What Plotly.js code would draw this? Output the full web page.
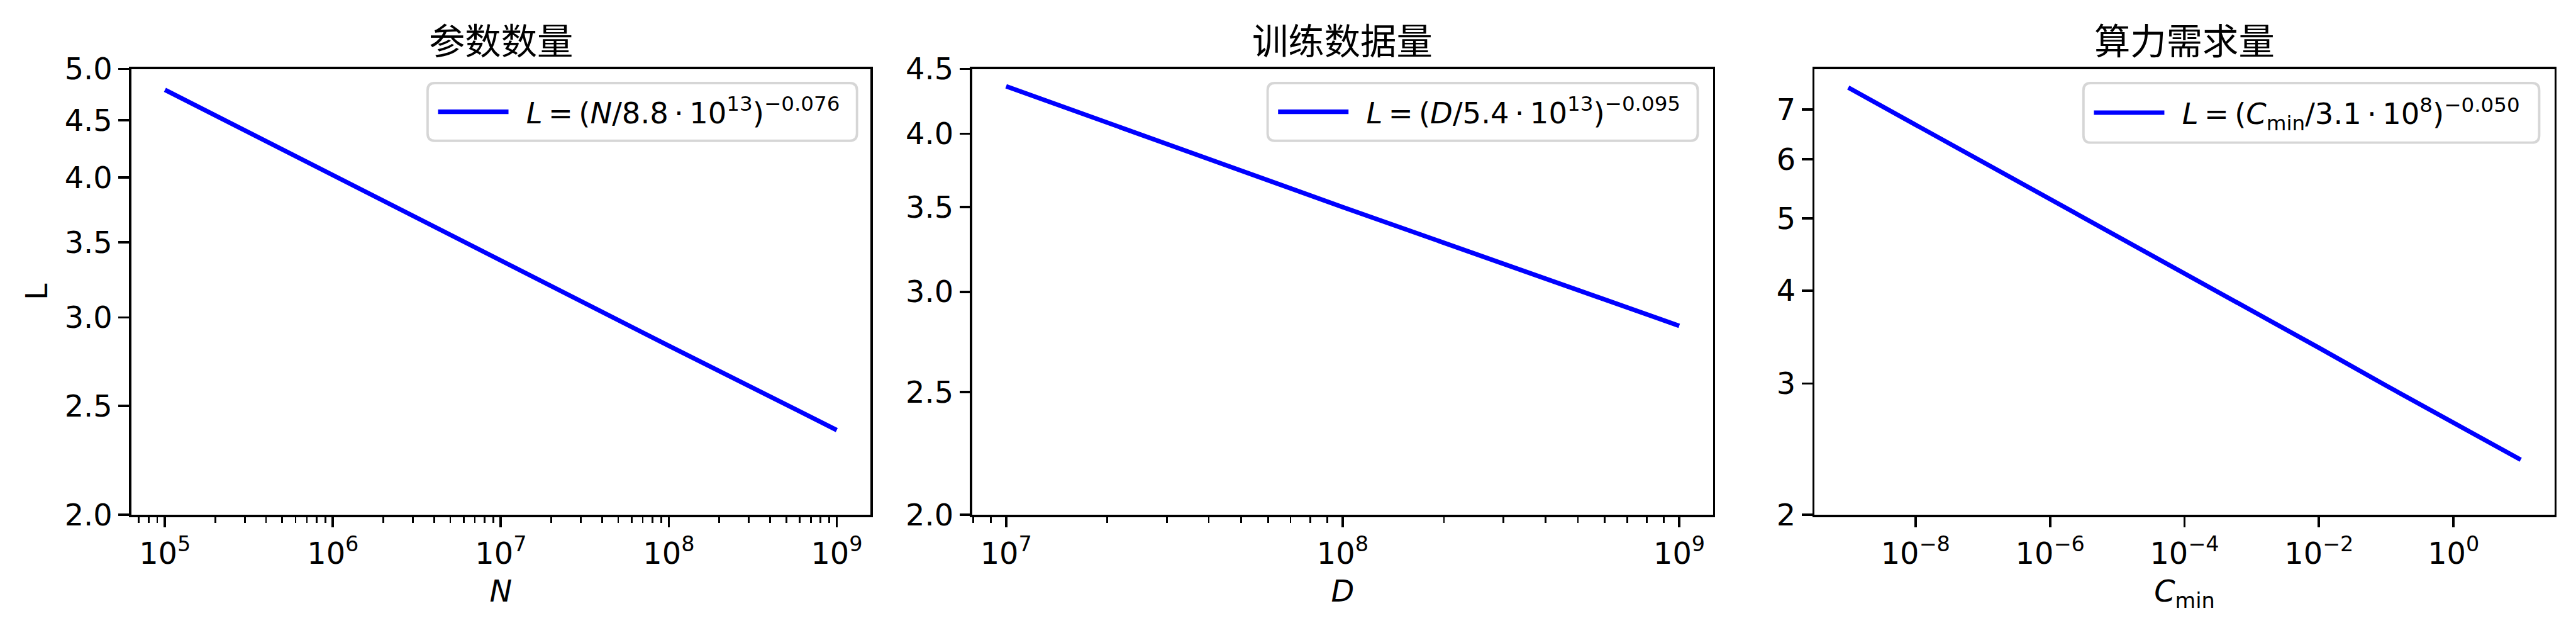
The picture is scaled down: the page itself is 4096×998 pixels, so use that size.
<!DOCTYPE html>
<html><head><meta charset="utf-8">
<script src="https://cdn.plot.ly/plotly-3.0.1.min.js"></script>
<style>html,body{margin:0;padding:0;background:#fff;overflow:hidden}#chart{width:4096px;height:998px}</style>
</head><body><div id="chart"></div>
<script>
// ---- data ----
const panelTitles = ['参数数量', '训练数据量', '算力需求量'];

const paramN = [1e5, 1e6, 1e7, 1e8, 1e9];
const paramL = [4.79, 4.02, 3.37, 2.83, 2.38];

const dataD = [1e7, 1e8, 1e9];
const dataL = [4.36, 3.50, 2.82];

const computeC = [1e-9, 1e-8, 1e-7, 1e-6, 1e-5, 1e-4, 1e-3, 1e-2, 1e-1, 1e0, 1e1];
const computeL = [7.49, 6.68, 5.95, 5.30, 4.73, 4.21, 3.76, 3.35, 2.98, 2.66, 2.37];

const legendNames = [
  '<i>L</i>\u2009=\u2009(<i>N</i>/8.8\u2009·\u200910<sup>13</sup>)<sup>\u22120.076</sup>',
  '<i>L</i>\u2009=\u2009(<i>D</i>/5.4\u2009·\u200910<sup>13</sup>)<sup>\u22120.095</sup>',
  '<i>L</i>\u2009=\u2009(<i>C</i><sub>min</sub>/3.1\u2009·\u200910<sup>8</sup>)<sup>\u22120.050</sup>'
];
const xTitles = ['<i>N</i>', '<i>D</i>', '<i>C</i><sub>min</sub>'];
const yTitle = 'L';

const x1TickVals = [1e5, 1e6, 1e7, 1e8, 1e9];
const x1TickText = ['10<sup>5</sup>', '10<sup>6</sup>', '10<sup>7</sup>', '10<sup>8</sup>', '10<sup>9</sup>'];
const x2TickVals = [1e7, 1e8, 1e9];
const x2TickText = ['10<sup>7</sup>', '10<sup>8</sup>', '10<sup>9</sup>'];
const x3TickVals = [1e-8, 1e-6, 1e-4, 1e-2, 1e0];
const x3TickText = ['10<sup>\u22128</sup>', '10<sup>\u22126</sup>', '10<sup>\u22124</sup>', '10<sup>\u22122</sup>', '10<sup>0</sup>'];

const y1TickVals = [2.0, 2.5, 3.0, 3.5, 4.0, 4.5, 5.0];
const y1TickText = ['2.0', '2.5', '3.0', '3.5', '4.0', '4.5', '5.0'];
const y2TickVals = [2.0, 2.5, 3.0, 3.5, 4.0, 4.5];
const y2TickText = ['2.0', '2.5', '3.0', '3.5', '4.0', '4.5'];
const y3TickVals = [2, 3, 4, 5, 6, 7];
const y3TickText = ['2', '3', '4', '5', '6', '7'];

// ---- geometry (reference px -> output px -> paper) ----
const RW = 7139, RH = 1740, W = 4096, H = 998, S = W / RW;
const PT = 600 / 72 * S;           // one point in output px
const FS = 10 * PT;                // 10pt
const TFS = 12 * PT;               // 12pt
const LFS = 46.5;                  // legend text size

function minorVals(lo, hi) {        // decades lo..hi, digits 2..9
  const out = [];
  for (let e = lo; e <= hi; e++) for (let d = 2; d <= 9; d++) out.push(d * Math.pow(10, e));
  return out;
}

const dom = [[364, 2412], [2695, 4747], [5029, 7079]].map(a => [a[0] / RW, a[1] / RW]);
const ydom = [1 - 1426 / RH, 1 - 191 / RH];

// legend frames (reference px): left, top, right, bottom
const legendBoxes = [[1185, 230, 2375, 390], [3513, 230, 4705, 390], [5774, 230, 7037, 395]];

const lineStyle = {color: '#0000ff', width: 1.5 * PT};
const traces = [
  {x: paramN, y: paramL, xaxis: 'x', yaxis: 'y', legend: 'legend'},
  {x: dataD, y: dataL, xaxis: 'x2', yaxis: 'y2', legend: 'legend2'},
  {x: computeC, y: computeL, xaxis: 'x3', yaxis: 'y3', legend: 'legend3'}
].map((t, i) => Object.assign(t, {type: 'scatter', mode: 'lines', name: '\u2002' + legendNames[i], line: lineStyle, showlegend: true}));

const tickFont = {family: 'DejaVu Sans', size: FS, color: '#000'};
function xax(i, range, tv, tt, minor) {
  const a = {
    type: 'log', domain: dom[i], range: range, anchor: i === 0 ? 'y' : 'y' + (i + 1),
    showline: true, mirror: true, linecolor: '#000', linewidth: 0.8 * PT,
    showgrid: false, zeroline: false,
    ticks: 'outside', ticklen: 3.5 * PT, tickwidth: 0.8 * PT, tickcolor: '#000',
    tickmode: 'array', tickvals: tv, ticktext: tt, tickfont: tickFont,
    title: {text: xTitles[i], font: tickFont, standoff: 18}
  };
  if (minor) a.minor = {tickmode: 'array', tickvals: minor, ticks: 'outside', ticklen: 2 * PT, tickwidth: 0.6 * PT, tickcolor: '#000', showgrid: false};
  return a;
}
function yax(i, range, tv, tt) {
  const a = {
    type: 'log', domain: ydom, range: range, anchor: i === 0 ? 'x' : 'x' + (i + 1),
    showline: true, mirror: true, linecolor: '#000', linewidth: 0.8 * PT,
    showgrid: false, zeroline: false,
    ticks: 'outside', ticklen: 3.5 * PT, tickwidth: 0.8 * PT, tickcolor: '#000',
    tickmode: 'array', tickvals: tv, ticktext: tt, tickfont: tickFont
  };
  if (i === 0) a.title = {text: yTitle, font: tickFont, standoff: 13};
  return a;
}

function px(x) { return x * S / W; }
function py(y) { return 1 - y * S / H; }
function roundRect(b) {
  const r = 20;  // reference px
  const [x0, y0, x1, y1] = b;
  const P = (x, y) => px(x).toFixed(6) + ',' + py(y).toFixed(6);
  return 'M' + P(x0 + r, y0) + ' L' + P(x1 - r, y0) + ' Q' + P(x1, y0) + ' ' + P(x1, y0 + r) +
    ' L' + P(x1, y1 - r) + ' Q' + P(x1, y1) + ' ' + P(x1 - r, y1) +
    ' L' + P(x0 + r, y1) + ' Q' + P(x0, y1) + ' ' + P(x0, y1 - r) +
    ' L' + P(x0, y0 + r) + ' Q' + P(x0, y0) + ' ' + P(x0 + r, y0) + ' Z';
}

function legendFor(b) {
  const lineStartOut = (b[0] + 29) * S;
  return {
    xanchor: 'left', yanchor: 'middle', x: (lineStartOut - 5) / W, y: py((b[1] + b[3]) / 2),
    bgcolor: 'rgba(0,0,0,0)', borderwidth: 0,
    font: {family: 'DejaVu Sans', size: LFS, color: '#000'}, itemwidth: 112
  };
}

const layout = {
  width: W, height: H, margin: {l: 0, r: 0, t: 0, b: 0},
  paper_bgcolor: '#fff', plot_bgcolor: '#fff',
  font: {family: 'DejaVu Sans', color: '#000'},
  xaxis: xax(0, [4.8, 9.2], x1TickVals, x1TickText, minorVals(4, 8)),
  xaxis2: xax(1, [6.9, 9.1], x2TickVals, x2TickText, minorVals(6, 8)),
  xaxis3: xax(2, [-9.5, 1.5], x3TickVals, x3TickText, null),
  yaxis: yax(0, [Math.log10(2), Math.log10(5)], y1TickVals, y1TickText),
  yaxis2: yax(1, [Math.log10(2), Math.log10(4.5)], y2TickVals, y2TickText),
  yaxis3: yax(2, [Math.log10(2), 0.8995], y3TickVals, y3TickText),
  legend: legendFor(legendBoxes[0]),
  legend2: legendFor(legendBoxes[1]),
  legend3: legendFor(legendBoxes[2]),
  shapes: legendBoxes.map(b => ({
    type: 'path', xref: 'paper', yref: 'paper', path: roundRect(b), layer: 'above',
    line: {color: '#d6d6d6', width: 0.8 * PT}, fillcolor: 'rgba(255,255,255,0.8)'
  })),
  annotations: panelTitles.map((t, i) => ({
    text: t, xref: 'paper', yref: 'paper', x: (dom[i][0] + dom[i][1]) / 2, y: 1 - 106 / RH,
    xanchor: 'center', yanchor: 'middle', showarrow: false,
    font: {family: 'Noto Sans CJK SC', size: TFS, color: '#000'}
  }))
};

Plotly.newPlot('chart', traces, layout, {staticPlot: true, displayModeBar: false});
</script>
</body></html>
